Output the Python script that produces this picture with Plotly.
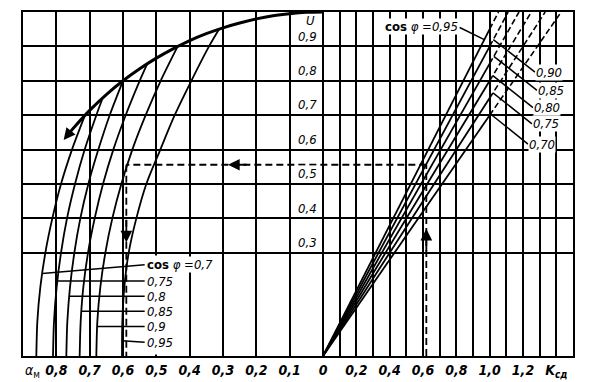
import plotly.graph_objects as go

# ---------------- data ----------------
# left family: alpha_m vs U for each cos(phi)
cos_left = ["0,7", "0,75", "0,8", "0,85", "0,9", "0,95"]
U_07 = [0.70, 0.6, 0.5, 0.4, 0.3, 0.2, 0.1, 0.0]
A_07 = [0.714, 0.753, 0.786, 0.812, 0.833, 0.848, 0.857, 0.860]
U_075 = [0.75, 0.7, 0.6, 0.5, 0.4, 0.3, 0.2, 0.1, 0.0]
A_075 = [0.661, 0.680, 0.715, 0.744, 0.768, 0.786, 0.799, 0.807, 0.810]
U_08 = [0.8, 0.7, 0.6, 0.5, 0.4, 0.3, 0.2, 0.1, 0.0]
A_08 = [0.600, 0.640, 0.674, 0.704, 0.728, 0.746, 0.759, 0.767, 0.770]
U_085 = [0.85, 0.8, 0.7, 0.6, 0.5, 0.4, 0.3, 0.2, 0.1, 0.0]
A_085 = [0.527, 0.550, 0.592, 0.629, 0.660, 0.685, 0.705, 0.719, 0.727, 0.730]
U_09 = [0.9, 0.8, 0.7, 0.6, 0.5, 0.4, 0.3, 0.2, 0.1, 0.0]
A_09 = [0.436, 0.487, 0.532, 0.572, 0.605, 0.632, 0.653, 0.668, 0.677, 0.680]
U_095 = [0.95, 0.9, 0.8, 0.7, 0.6, 0.5, 0.4, 0.3, 0.2, 0.1, 0.0]
A_095 = [0.312, 0.342, 0.395, 0.445, 0.488, 0.530, 0.560, 0.583, 0.596, 0.602, 0.603]

# envelope (thick curve)
env_A = [0.77, 0.75, 0.70, 0.65, 0.60, 0.55, 0.50, 0.45, 0.40, 0.35, 0.30, 0.25, 0.20, 0.15, 0.10, 0.05, 0.0]
env_U = [0.638, 0.661, 0.714, 0.760, 0.800, 0.835, 0.866, 0.893, 0.917, 0.937, 0.954, 0.968, 0.980, 0.989, 0.995, 0.999, 1.0]

# right family: rays U vs K_sd
ray_cos = [0.95, 0.90, 0.85, 0.80, 0.75, 0.70]
ray_labels = ["0,95", "0,90", "0,85", "0,80", "0,75", "0,70"]
ray_K_top = [1.053, 1.111, 1.176, 1.250, 1.333, 1.429]

# worked example (dashed path)
ex_K = 0.62
ex_U = 0.556
ex_A = 0.59

# axis tick labels
alpha_ticks = [0.8, 0.7, 0.6, 0.5, 0.4, 0.3, 0.2, 0.1]
alpha_text = ["0,8", "0,7", "0,6", "0,5", "0,4", "0,3", "0,2", "0,1"]
K_ticks = [0.2, 0.4, 0.6, 0.8, 1.0, 1.2]
K_text = ["0,2", "0,4", "0,6", "0,8", "1,0", "1,2"]
U_ticks = [0.9, 0.8, 0.7, 0.6, 0.5, 0.4, 0.3]
U_text = ["0,9", "0,8", "0,7", "0,6", "0,5", "0,4", "0,3"]

# ---------------- figure ----------------
FONT = "Liberation Sans Narrow, DejaVu Sans Condensed, Arial Narrow, sans-serif"
BLK = "black"

def ax(a):  # alpha scale drawn to the left of zero, twice the K scale
    return -2.0 * a

fig = go.Figure()

# left curves
left_curves = [(A_07, U_07), (A_075, U_075), (A_08, U_08), (A_085, U_085), (A_09, U_09), (A_095, U_095)]
for A, U in left_curves:
    fig.add_trace(go.Scatter(x=[ax(a) for a in A], y=U, mode="lines",
                             line=dict(color=BLK, width=1.8, shape="spline", smoothing=0.8),
                             hoverinfo="skip", showlegend=False))

# envelope
fig.add_trace(go.Scatter(x=[ax(a) for a in env_A], y=env_U, mode="lines",
                         line=dict(color=BLK, width=3, shape="spline", smoothing=0.8),
                         hoverinfo="skip", showlegend=False))

# rays: solid up to K=1, dashed beyond
for c, kt in zip(ray_cos, ray_K_top):
    fig.add_trace(go.Scatter(x=[0, 1.0], y=[0, c * 1.0], mode="lines",
                             line=dict(color=BLK, width=1.8), hoverinfo="skip", showlegend=False))
    fig.add_trace(go.Scatter(x=[1.0, kt], y=[c * 1.0, 1.0], mode="lines",
                             line=dict(color=BLK, width=1.6, dash="6px,3px"), hoverinfo="skip", showlegend=False))

# example dashed path
dash_style = dict(color=BLK, width=1.8, dash="7px,4px")
fig.add_trace(go.Scatter(x=[ex_K, ex_K], y=[0, ex_U], mode="lines", line=dash_style, hoverinfo="skip", showlegend=False))
fig.add_trace(go.Scatter(x=[ex_K, ax(ex_A)], y=[ex_U, ex_U], mode="lines", line=dash_style, hoverinfo="skip", showlegend=False))
fig.add_trace(go.Scatter(x=[ax(ex_A), ax(ex_A)], y=[ex_U, 0], mode="lines", line=dash_style, hoverinfo="skip", showlegend=False))

# the alpha = 0.5 grid line stops at U = 0.3 (label column below it)
fig.add_shape(type="rect", x0=-1.03, x1=-0.97, y0=0.004, y1=0.292,
              fillcolor="white", line=dict(width=0), layer="above")

annotations = []
def arrow(x, y, tx, ty):
    annotations.append(dict(x=x, y=y, ax=tx, ay=ty, xref="x", yref="y", axref="x", ayref="y",
                            text="", showarrow=True, arrowhead=2, arrowsize=1.3, arrowwidth=1.8,
                            arrowcolor=BLK))

arrow(ax(0.778), 0.628, ax(0.745), 0.668)          # envelope end
arrow(-0.57, ex_U, -0.45, ex_U)                     # leftwards on horizontal dashed
arrow(ax(ex_A), 0.33, ax(ex_A), 0.40)              # downwards on left dashed
arrow(ex_K, 0.37, ex_K, 0.30)                       # upwards on right dashed

# left labels + leaders
lab_font = dict(family=FONT, size=13, color=BLK)
left_label_U = [0.265, 0.218, 0.174, 0.130, 0.086, 0.040]
left_leader_end_U = [0.240, 0.218, 0.174, 0.130, 0.086, 0.044]
for i, (A, U) in enumerate(left_curves):
    ue = left_leader_end_U[i]
    xe = None
    for j in range(len(U) - 1):
        if U[j] >= ue >= U[j + 1]:
            f = (U[j] - ue) / (U[j] - U[j + 1])
            xe = ax(A[j] + f * (A[j + 1] - A[j]))
            break
    fig.add_shape(type="line", x0=-1.07, y0=left_label_U[i], x1=xe, y1=ue,
                  line=dict(color=BLK, width=1.5))
    txt = ("<b>cos</b> <i>φ</i> <i>=" + cos_left[i] + "</i>") if i == 0 else "<i>" + cos_left[i] + "</i>"
    annotations.append(dict(x=-1.06, y=left_label_U[i], xref="x", yref="y", text=txt,
                            showarrow=False, xanchor="left", yanchor="middle", font=lab_font,
                            bgcolor="white", borderpad=0))

# right labels + leaders
fig.add_shape(type="line", x0=0.82, y0=0.955, x1=0.968, y1=0.95 * 0.968, line=dict(color=BLK, width=1.5))
annotations.append(dict(x=0.815, y=0.957, xref="x", yref="y",
                        text="<b>cos</b> <i>φ</i> <i>=" + ray_labels[0] + "</i>",
                        showarrow=False, xanchor="right", yanchor="middle", font=lab_font,
                        bgcolor="white", borderpad=0))
right_label_U = [0.825, 0.772, 0.722, 0.675, 0.616]
right_label_X = [1.272, 1.284, 1.260, 1.254, 1.230]
right_end_K = [1.022, 1.025, 1.019, 1.020, 1.005]
for i in range(1, 6):
    c = ray_cos[i]
    fig.add_shape(type="line", x0=right_label_X[i - 1], y0=right_label_U[i - 1],
                  x1=right_end_K[i - 1], y1=c * right_end_K[i - 1], line=dict(color=BLK, width=1.5))
    annotations.append(dict(x=right_label_X[i - 1], y=right_label_U[i - 1], xref="x", yref="y",
                            text="<i>" + ray_labels[i] + "</i>", showarrow=False,
                            xanchor="left", yanchor="middle", font=lab_font,
                            bgcolor="white", borderpad=0))

# U scale labels next to the zero line
for u, t in zip(U_ticks, U_text):
    annotations.append(dict(x=-0.03, y=u + 0.03, xref="x", yref="y", text="<i>" + t + "</i>",
                            showarrow=False, xanchor="right", yanchor="middle", font=lab_font,
                            bgcolor="white", borderpad=0))
annotations.append(dict(x=-0.075, y=0.975, xref="x", yref="y", text="<i>U</i>",
                        showarrow=False, xanchor="center", yanchor="middle", font=lab_font))

# axis name label for alpha scale
annotations.append(dict(x=-1.80, y=0, xref="x", yref="paper", text="<i>α</i><sub>м</sub>",
                        showarrow=False, xanchor="left", yanchor="top", yshift=-4,
                        font=dict(family=FONT, size=14, color=BLK)))

# x ticks (grid every 0.1 alpha on left, every 0.1 K on right)
tickvals, ticktext = [], []
for k in range(9, 0, -1):
    a = k / 10
    tickvals.append(ax(a))
    ticktext.append("<i>" + alpha_text[alpha_ticks.index(a)] + "</i>" if a in alpha_ticks else " ")
tickvals.append(0.0); ticktext.append("<i>0</i>")
for k in range(1, 16):
    kv = round(k / 10, 1)
    tickvals.append(kv)
    if kv in K_ticks:
        ticktext.append("<i>" + K_text[K_ticks.index(kv)] + "</i>")
    elif kv == 1.4:
        ticktext.append("<i>K</i><sub>сд</sub>")
    else:
        ticktext.append(" ")

# page body has an 8 px default margin: figure sized so the plot box lands at x 23-573, y 10-352
fig.update_layout(
    width=583, height=374,
    margin=dict(l=15, r=18, t=2, b=22),
    paper_bgcolor="white", plot_bgcolor="white",
    showlegend=False,
    annotations=annotations,
    xaxis=dict(range=[-1.8, 1.5], tickvals=tickvals, ticktext=ticktext,
               showgrid=True, gridcolor=BLK, gridwidth=1.8, zeroline=False,
               showline=True, linecolor=BLK, linewidth=2, mirror=True,
               ticks="", tickfont=dict(family=FONT, size=14, color=BLK, style="italic", weight="bold"),
               fixedrange=True),
    yaxis=dict(range=[0, 1.0], tickvals=U_ticks, showticklabels=False,
               showgrid=True, gridcolor=BLK, gridwidth=1.8, zeroline=False,
               showline=True, linecolor=BLK, linewidth=2, mirror=True, ticks="",
               fixedrange=True),
)

fig.write_html("out.html")
